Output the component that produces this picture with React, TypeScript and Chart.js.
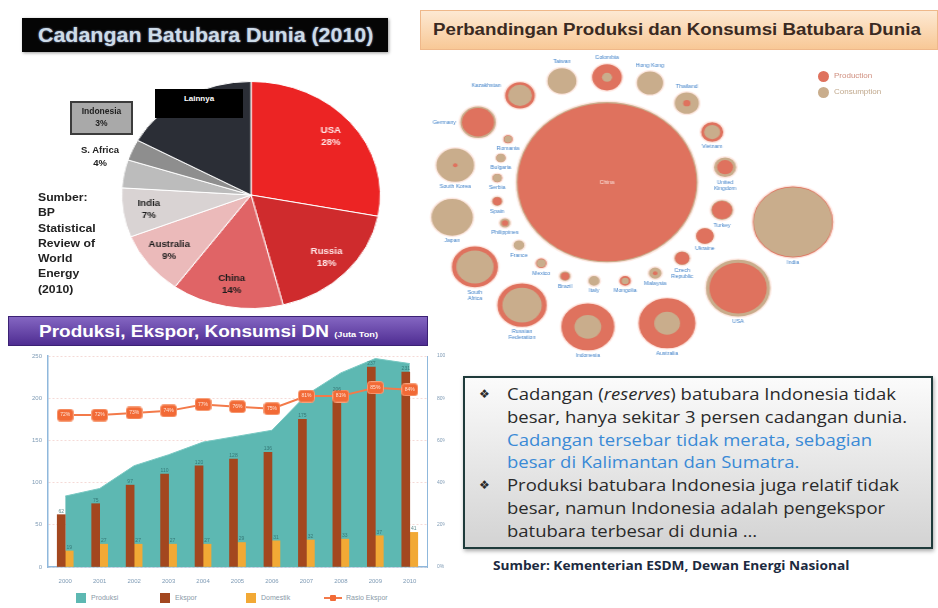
import React, { useEffect, useRef } from "react";
import { Chart, registerables } from "chart.js";

Chart.register(...registerables);

// ---------- Pie: Cadangan Batubara Dunia (2010) ----------
const pieLabels = ["USA", "Russia", "China", "Australia", "India", "S. Africa", "Indonesia", "Lainnya"];
const pieValues = [28, 18, 14, 9, 7, 4, 3, 17];
const pieColors = ["#ec2424", "#cf2b2d", "#e06466", "#ebbaba", "#d9d3d3", "#bcbcbc", "#8e8e8e", "#2b2e36"];
const pieInsideLabels = ["USA", "Russia", "China", "Australia", "India"];

// ---------- Combo: Produksi, Ekspor, Konsumsi DN ----------
const years = ["2000", "2001", "2002", "2003", "2004", "2005", "2006", "2007", "2008", "2009", "2010"];
const produksi = [84, 93, 120, 133, 148, 155, 162, 204, 230, 247, 241];
const ekspor = [62, 75, 97, 110, 120, 128, 136, 175, 206, 237, 231];
const domestik = [19, 27, 27, 27, 27, 29, 31, 32, 33, 37, 41];
const rasioEkspor = [72, 72, 73, 74, 77, 76, 75, 81, 81, 85, 84];
const leftTicks = [0, 50, 100, 150, 200, 250];
const rightTicks = [0, 20, 40, 60, 80, 100];

// ---------- Bubble: Produksi vs Konsumsi dunia ----------
const countries = [
  "China", "Colombia", "Taiwan", "Kazakhstan", "Hong Kong", "Thailand", "Vietnam", "United Kingdom",
  "Turkey", "Ukraine", "Czech Republic", "Malaysia", "Mongolia", "Italy", "Brazil", "Mexico",
  "France", "Philippines", "Spain", "Serbia", "Bulgaria", "Romania", "Germany", "South Korea",
  "Japan", "South Africa", "Russian Federation", "Indonesia", "Australia", "USA", "India",
];
const posX = [36.1, 36.1, 27.4, 19.3, 44.4, 51.5, 56.4, 58.9, 58.3, 55.0, 50.6, 45.4, 39.6, 33.6, 28.0, 23.4,
  19.1, 16.4, 14.9, 14.9, 15.6, 17.0, 11.2, 6.8, 6.2, 10.6, 19.7, 32.4, 47.7, 61.4, 72.0];
const posY = [34.8, 55.1, 54.4, 51.6, 54.0, 50.1, 44.5, 37.7, 29.4, 24.4, 20.1, 17.2, 15.7, 15.7, 16.6, 19.1,
  22.6, 26.9, 31.1, 35.6, 39.5, 43.1, 46.4, 38.1, 28.0, 18.4, 11.0, 6.8, 7.5, 14.3, 27.1];
const production = [3100, 95, 0, 95, 0, 5, 55, 25, 40, 30, 20, 2, 16, 0, 7, 15,
  0, 4, 8, 12, 11, 11, 100, 2, 0, 220, 250, 290, 330, 320, 650];
const consumption = [3240, 10, 90, 55, 75, 65, 25, 55, 55, 36, 28, 20, 5, 16, 15, 8,
  15, 14, 14, 8, 9, 6, 135, 150, 180, 135, 150, 70, 65, 420, 600];

const RED = "#df725e";
const TAN = "#c9ad8c";
const FONT = '"Liberation Sans", Arial, sans-serif';

function PieChart() {
  const ref = useRef<HTMLCanvasElement>(null);
  useEffect(() => {
    const labelPlugin = {
      id: "pieLabels",
      afterDatasetsDraw(chart: any) {
        const ctx = chart.ctx;
        const meta = chart.getDatasetMeta(0);
        ctx.save();
        ctx.font = `bold 8.5px ${FONT}`;
        ctx.textAlign = "center";
        ctx.textBaseline = "middle";
        meta.data.forEach((arc: any, i: number) => {
          if (!pieInsideLabels.includes(pieLabels[i])) return;
          const a = (arc.startAngle + arc.endAngle) / 2;
          const rr = arc.outerRadius * 0.8;
          const x = arc.x + Math.cos(a) * rr;
          const y = arc.y + Math.sin(a) * rr;
          ctx.fillStyle = i < 2 ? "#ffe4e4" : "#1c1c1c";
          ctx.fillText(pieLabels[i], x, y - 6);
          ctx.fillText(pieValues[i] + "%", x, y + 6);
        });
        ctx.restore();
      },
    };
    const chart = new Chart(ref.current!, {
      type: "pie",
      data: {
        labels: pieLabels,
        datasets: [{ data: pieValues, backgroundColor: pieColors, borderColor: "#ffffff", borderWidth: 1 }],
      },
      options: {
        animation: false,
        responsive: false,
        layout: { padding: 1 },
        plugins: { legend: { display: false }, tooltip: { enabled: false } },
      },
      plugins: [labelPlugin],
    });
    return () => chart.destroy();
  }, []);
  return (
    <div style={{ position: "absolute", left: 136, top: 80, width: 230, height: 230, transform: "scaleX(1.14)", transformOrigin: "50% 50%" }}>
      <canvas ref={ref} width={230} height={230} />
    </div>
  );
}

function ComboChart() {
  const ref = useRef<HTMLCanvasElement>(null);
  useEffect(() => {
    const marker = document.createElement("canvas");
    marker.width = 17;
    marker.height = 13;
    const mctx = marker.getContext("2d")!;
    mctx.fillStyle = "#f26a36";
    mctx.beginPath();
    (mctx as any).roundRect(0.5, 0.5, 16, 12, 3);
    mctx.fill();
    mctx.strokeStyle = "#f7a07a";
    mctx.lineWidth = 1;
    mctx.stroke();

    const valuePlugin = {
      id: "values",
      afterDatasetsDraw(chart: any) {
        const ctx = chart.ctx;
        ctx.save();
        ctx.font = `5px ${FONT}`;
        ctx.textAlign = "center";
        ctx.textBaseline = "bottom";
        [1, 2].forEach((di) => {
          const meta = chart.getDatasetMeta(di);
          meta.data.forEach((bar: any, i: number) => {
            ctx.fillStyle = "rgba(40,100,100,0.75)";
            ctx.fillText(String(chart.data.datasets[di].data[i]), bar.x, bar.y - 1);
          });
        });
        const lm = chart.getDatasetMeta(3);
        ctx.textBaseline = "middle";
        ctx.fillStyle = "rgba(255,235,225,0.95)";
        lm.data.forEach((pt: any, i: number) => {
          ctx.fillText(rasioEkspor[i] + "%", pt.x, pt.y);
        });
        ctx.restore();
      },
    };

    const tickFont = { size: 6, family: FONT };
    const chart = new Chart(ref.current!, {
      type: "bar",
      data: {
        labels: years,
        datasets: [
          {
            type: "line",
            label: "Produksi",
            data: produksi,
            yAxisID: "y",
            fill: "origin",
            backgroundColor: "#5db8b2",
            borderColor: "#78c8c2",
            borderWidth: 1,
            pointRadius: 0,
            tension: 0,
            order: 3,
          } as any,
          { type: "bar", label: "Ekspor", data: ekspor, yAxisID: "y", backgroundColor: "#a3471f", barThickness: 8, order: 2 },
          { type: "bar", label: "Domestik", data: domestik, yAxisID: "y", backgroundColor: "#f2a935", barThickness: 8, order: 2 },
          {
            type: "line",
            label: "Rasio Ekspor",
            data: rasioEkspor,
            yAxisID: "y1",
            borderColor: "#f37a4a",
            backgroundColor: "#f26a36",
            borderWidth: 2,
            pointStyle: marker,
            pointRadius: 8,
            tension: 0,
            fill: false,
            order: 1,
          } as any,
        ],
      },
      options: {
        animation: false,
        responsive: false,
        layout: { padding: { top: 6, bottom: 3, left: 0, right: 0 } },
        plugins: { legend: { display: false }, tooltip: { enabled: false } },
        scales: {
          x: {
            offset: true,
            grid: { display: false },
            border: { color: "#8fb8dc", width: 1.5 },
            ticks: { font: tickFont, color: "#7f9bb5", padding: 3 },
            afterFit: (s: any) => { s.height = 18; },
          },
          y: {
            position: "left",
            min: leftTicks[0],
            max: leftTicks[leftTicks.length - 1],
            afterBuildTicks: (s: any) => { s.ticks = leftTicks.map((v) => ({ value: v })); },
            ticks: { font: tickFont, color: "#7f9bb5", padding: 6 },
            grid: { color: "rgba(225,150,140,0.35)", drawTicks: false },
            border: { color: "#8fb8dc", width: 1.5, dash: [2, 2] },
            afterFit: (s: any) => { s.width = 48; },
          },
          y1: {
            position: "right",
            min: rightTicks[0],
            max: rightTicks[rightTicks.length - 1],
            afterBuildTicks: (s: any) => { s.ticks = rightTicks.map((v) => ({ value: v })); },
            ticks: { font: { size: 5, family: FONT }, color: "#7f9bb5", padding: 2, callback: (v: any) => v + "%" },
            grid: { display: false },
            border: { color: "#8fb8dc", width: 1 },
            afterFit: (s: any) => { s.width = 18; },
          },
        },
      } as any,
      plugins: [valuePlugin],
    });
    return () => chart.destroy();
  }, []);
  return (
    <div style={{ position: "absolute", left: 0, top: 346, width: 445, height: 242 }}>
      <canvas ref={ref} width={445} height={242} />
    </div>
  );
}

function BubbleChart() {
  const ref = useRef<HTMLCanvasElement>(null);
  useEffect(() => {
    const radiusOf = (v: number) => (v > 0 ? 1.42 * Math.sqrt(v) : 0);
    const outerR = countries.map((_, i) => radiusOf(Math.max(production[i], consumption[i])));
    const innerR = countries.map((_, i) => radiusOf(Math.min(production[i], consumption[i])));
    const outerColors = countries.map((_, i) => (production[i] >= consumption[i] ? RED : TAN));
    const innerColors = countries.map((_, i) => (production[i] >= consumption[i] ? TAN : RED));

    const labelPlugin = {
      id: "bubbleLabels",
      afterDatasetsDraw(chart: any) {
        const ctx = chart.ctx;
        const meta = chart.getDatasetMeta(1);
        const center = meta.data[0];
        ctx.save();
        ctx.font = `5px ${FONT}`;
        meta.data.forEach((pt: any, i: number) => {
          const r = outerR[i];
          const name = countries[i];
          const lines = name.length > 11 && name.includes(" ") ? name.split(" ") : [name];
          if (r > 60) {
            ctx.fillStyle = "rgba(255,240,235,0.9)";
            ctx.textAlign = "center";
            ctx.textBaseline = "middle";
            ctx.fillText(name, pt.x, pt.y);
            return;
          }
          const dx = pt.x - center.x;
          const dy = pt.y - center.y;
          ctx.fillStyle = "#3f80c8";
          if (dy < -70 && dx > -70) {
            ctx.textAlign = "center";
            ctx.textBaseline = "bottom";
            lines.slice().reverse().forEach((ln, k) => ctx.fillText(ln, pt.x, pt.y - r - 3 - k * 6));
          } else if (dx < -60 && dy < -20 && r > 12) {
            ctx.textAlign = "right";
            ctx.textBaseline = "middle";
            ctx.fillText(name, pt.x - r - 3, pt.y - (dy < -60 ? r * 0.7 : 0));
          } else {
            ctx.textAlign = "center";
            ctx.textBaseline = "top";
            lines.forEach((ln, k) => ctx.fillText(ln, pt.x, pt.y + r + 2 + k * 6));
          }
        });
        ctx.restore();
      },
    };

    const chart = new Chart(ref.current!, {
      type: "bubble",
      data: {
        datasets: [
          {
            label: "inner",
            data: countries.map((_, i) => ({ x: posX[i], y: posY[i], r: innerR[i] })),
            backgroundColor: innerColors,
            borderWidth: 0,
            order: 0,
            clip: false,
          } as any,
          {
            label: "outer",
            data: countries.map((_, i) => ({ x: posX[i], y: posY[i], r: outerR[i] })),
            backgroundColor: outerColors,
            borderColor: "rgba(255,235,230,0.9)",
            borderWidth: 1.5,
            order: 1,
            clip: false,
          } as any,
        ],
      },
      options: {
        animation: false,
        responsive: false,
        layout: { padding: 0, autoPadding: false },
        plugins: { legend: { display: false }, tooltip: { enabled: false } },
        scales: {
          x: { display: false, min: 0, max: 100 },
          y: { display: false, min: 0, max: 60 },
        },
      } as any,
      plugins: [labelPlugin],
    });
    return () => chart.destroy();
  }, []);
  return (
    <div style={{ position: "absolute", left: 420, top: 52, width: 458, height: 310, transform: "scaleX(1.131)", transformOrigin: "0 0" }}>
      <canvas ref={ref} width={458} height={310} />
    </div>
  );
}

export default function App() {
  const abs = (s: React.CSSProperties): React.CSSProperties => ({ position: "absolute", ...s });
  const stretch = (k: number): React.CSSProperties => ({ display: "inline-block", transform: `scaleX(${k})`, transformOrigin: "0 50%" });
  const sourceLines = ["Sumber:", "BP", "Statistical", "Review of", "World", "Energy", "(2010)"];
  return (
    <div style={{ position: "absolute", left: 0, top: 0, width: 938, height: 608, background: "#ffffff", overflow: "hidden", fontFamily: FONT }}>
      {/* Left title */}
      <div style={abs({ left: 22, top: 18, width: 366, height: 34, background: "#050505", boxShadow: "1px 1px 3px rgba(0,0,0,0.4)", color: "#cddbe8", fontWeight: "bold", fontSize: 20, lineHeight: "34px", textShadow: "0 0 2px #8899bb" })}>
        <span style={{ ...stretch(1.07), marginLeft: 16 }}>Cadangan Batubara Dunia (2010)</span>
      </div>
      {/* Right title */}
      <div style={abs({ left: 420, top: 10, width: 516, height: 38, background: "linear-gradient(180deg,#fde9d3,#f8c896)", border: "1px solid #efb88a", color: "#3a2a22", fontWeight: "bold", fontSize: 16, lineHeight: "38px" })}>
        <span style={{ ...stretch(1.17), marginLeft: 12 }}>Perbandingan Produksi dan Konsumsi Batubara Dunia</span>
      </div>

      <PieChart />

      {/* Pie callouts */}
      <div style={abs({ left: 155, top: 89, width: 88, height: 29, background: "#000000", color: "#ffffff", fontWeight: "bold", fontSize: 8, textAlign: "center", lineHeight: "20px" })}>Lainnya</div>
      <div style={abs({ left: 70, top: 101, width: 59, height: 28, background: "#a9a9a9", border: "2px solid #3c3c3c", color: "#222", fontWeight: "bold", fontSize: 8.5, textAlign: "center", lineHeight: "12px", paddingTop: 2 })}>
        Indonesia<br />3%
      </div>
      <div style={abs({ left: 68, top: 143, width: 64, color: "#222", fontWeight: "bold", fontSize: 9.5, textAlign: "center", lineHeight: "13px" })}>
        S. Africa<br />4%
      </div>
      <div style={abs({ left: 38, top: 190, color: "#222", fontWeight: "bold", fontSize: 10, lineHeight: "15.3px" })}>
        {sourceLines.map((l) => <div key={l}><span style={stretch(1.22)}>{l}</span></div>)}
      </div>

      {/* Purple banner */}
      <div style={abs({ left: 8, top: 316, width: 418, height: 28, background: "linear-gradient(180deg,#8466c2,#4f2d92)", border: "1px solid #3b2174", color: "#ffffff", fontWeight: "bold", fontSize: 16.5, lineHeight: "28px" })}>
        <span style={{ ...stretch(1.15), marginLeft: 30 }}>
          Produksi, Ekspor, Konsumsi DN <span style={{ fontSize: 8 }}>(Juta Ton)</span>
        </span>
      </div>

      <ComboChart />

      {/* Combo legend */}
      <div style={abs({ left: 76, top: 593, width: 10, height: 10, background: "#5db8b2" })} />
      <div style={abs({ left: 91, top: 594, fontSize: 7, color: "#8a9aa8" })}>Produksi</div>
      <div style={abs({ left: 160, top: 593, width: 10, height: 10, background: "#a3471f" })} />
      <div style={abs({ left: 175, top: 594, fontSize: 7, color: "#8a9aa8" })}>Ekspor</div>
      <div style={abs({ left: 246, top: 593, width: 10, height: 10, background: "#f2a935" })} />
      <div style={abs({ left: 261, top: 594, fontSize: 7, color: "#8a9aa8" })}>Domestik</div>
      <div style={abs({ left: 324, top: 597, width: 18, height: 2, background: "#f37a4a" })} />
      <div style={abs({ left: 330, top: 595, width: 6, height: 6, background: "#f26a36", borderRadius: 1 })} />
      <div style={abs({ left: 346, top: 594, fontSize: 7, color: "#8a9aa8" })}>Rasio Ekspor</div>

      <BubbleChart />

      {/* Bubble legend */}
      <div style={abs({ left: 818, top: 71, width: 11, height: 11, borderRadius: "50%", background: RED })} />
      <div style={abs({ left: 834, top: 71, fontSize: 8, color: "#d09080" })}>Production</div>
      <div style={abs({ left: 818, top: 87, width: 11, height: 11, borderRadius: "50%", background: TAN })} />
      <div style={abs({ left: 834, top: 87, fontSize: 8, color: "#c0a88c" })}>Consumption</div>

      {/* Text box */}
      <div style={abs({ left: 463, top: 376, width: 466, height: 169, border: "2px solid #1f3b3b", background: "linear-gradient(180deg,#fbfbfb,#d3d3d3)", boxShadow: "1px 2px 4px rgba(0,0,0,0.35)", fontFamily: '"Open Sans", sans-serif', fontSize: 16.5, lineHeight: "22.8px", color: "#2a2a2a" })}>
        <div style={abs({ left: 14, top: 5, fontFamily: '"DejaVu Sans", sans-serif', fontSize: 12 })}>❖</div>
        <div style={abs({ left: 14, top: 96, fontFamily: '"DejaVu Sans", sans-serif', fontSize: 12 })}>❖</div>
        <div style={abs({ left: 42, top: 5, whiteSpace: "nowrap", transform: "scaleX(1.12)", transformOrigin: "0 0" })}>
          Cadangan (<i>reserves</i>) batubara Indonesia tidak<br />
          besar, hanya sekitar 3 persen cadangan dunia.<br />
          <span style={{ color: "#3a8ad6" }}>Cadangan tersebar tidak merata, sebagian</span><br />
          <span style={{ color: "#3a8ad6" }}>besar di Kalimantan dan Sumatra.</span><br />
          Produksi batubara Indonesia juga relatif tidak<br />
          besar, namun Indonesia adalah pengekspor<br />
          batubara terbesar di dunia …
        </div>
      </div>
      <div style={abs({ left: 493, top: 557, fontFamily: '"Open Sans", sans-serif', fontWeight: "bold", fontSize: 12, color: "#1c2a40", whiteSpace: "nowrap", transform: "scaleX(1.14)", transformOrigin: "0 0" })}>
        Sumber: Kementerian ESDM, Dewan Energi Nasional
      </div>
    </div>
  );
}
